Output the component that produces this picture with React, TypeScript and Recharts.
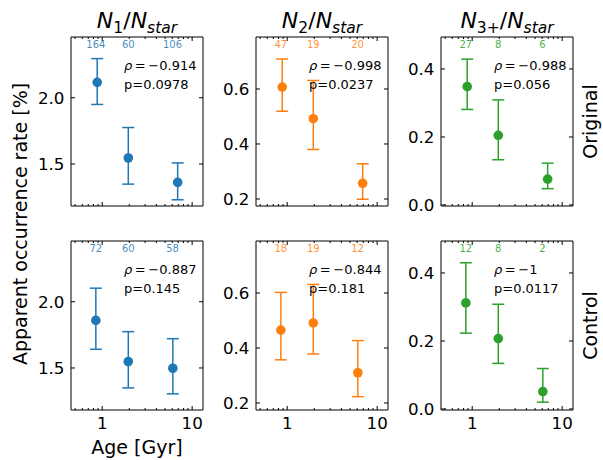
import React from 'react';
import { ScatterChart, Scatter, XAxis, YAxis, ErrorBar } from 'recharts';

// ---------- data ----------
const agesOrig = [0.88, 1.95, 6.9];
const agesCtrl = [0.85, 1.95, 6.1];
const countAges = [0.85, 1.95, 6.05];
const xMajorTicks = [1, 10];
const xMinorTicks = [0.5, 0.6, 0.7, 0.8, 0.9, 2, 3, 4, 5, 6, 7, 8, 9];

const origN1 = [2.116, 1.545, 1.361];
const origN1Lo = [1.949, 1.348, 1.23];
const origN1Hi = [2.295, 1.775, 1.508];
const origN2 = [0.607, 0.492, 0.257];
const origN2Lo = [0.519, 0.38, 0.199];
const origN2Hi = [0.709, 0.631, 0.328];
const origN3 = [0.348, 0.205, 0.076];
const origN3Lo = [0.281, 0.133, 0.048];
const origN3Hi = [0.429, 0.309, 0.123];

const ctrlN1 = [1.859, 1.548, 1.498];
const ctrlN1Lo = [1.641, 1.35, 1.305];
const ctrlN1Hi = [2.102, 1.774, 1.721];
const ctrlN2 = [0.465, 0.491, 0.31];
const ctrlN2Lo = [0.357, 0.378, 0.223];
const ctrlN2Hi = [0.602, 0.631, 0.427];
const ctrlN3 = [0.312, 0.207, 0.051];
const ctrlN3Lo = [0.223, 0.134, 0.02];
const ctrlN3Hi = [0.43, 0.308, 0.119];

const origCounts1 = [164, 60, 106];
const origCounts2 = [47, 19, 20];
const origCounts3 = [27, 8, 6];
const ctrlCounts1 = [72, 60, 58];
const ctrlCounts2 = [18, 19, 12];
const ctrlCounts3 = [12, 8, 2];

const rhoOrig = ['−0.914', '−0.998', '−0.988'];
const pOrig = ['0.0978', '0.0237', '0.056'];
const rhoCtrl = ['−0.887', '−0.844', '−1'];
const pCtrl = ['0.145', '0.181', '0.0117'];

const yTicks1 = [1.5, 2.0];
const yTicks2 = [0.2, 0.4, 0.6];
const yTicks3 = [0.0, 0.2, 0.4];
const yDomain1: [number, number] = [1.183, 2.458];
const yDomain2: [number, number] = [0.1745, 0.789];
const yDomain3: [number, number] = [-0.003, 0.494];
const xDomain: [number, number] = [0.45, 13.2];

const colors = ['#1f77b4', '#ff7f0e', '#2ca02c'];
const rowLabels = ['Original', 'Control'];

// ---------- layout ----------
const FONT = 'DejaVu Sans, Verdana, sans-serif';
const colLeft = [71, 256, 441];
const rowTop = [37, 241];
const PW = 132;
const PH = 169;
const PL = 50; // space left of plot inside chart
const PT = 5; // space above plot inside chart
const BH = 30; // bottom axis height
const TM = 6;

const mk = (ages: number[], v: number[], lo: number[], hi: number[]) =>
  ages.map((a, i) => ({ x: a, y: v[i], err: [v[i] - lo[i], hi[i] - v[i]] }));
const mkCounts = (n: number[], yTop: number) =>
  countAges.map((a, i) => ({ x: a, y: yTop, n: n[i] }));

const allTicks = [...xMinorTicks, ...xMajorTicks].sort((a, b) => a - b);
const isMajor = (v: number) => xMajorTicks.includes(v);

type PanelProps = {
  data: any[];
  counts: any[];
  color: string;
  yDomain: [number, number];
  yTicks: number[];
  showXLabels: boolean;
  left: number;
  top: number;
};

function Panel({ data, counts, color, yDomain, yTicks, showXLabels, left, top }: PanelProps) {
  const W = PL + PW + 5;
  const H = PT + PH + BH;
  const axisLine = { stroke: '#000', strokeWidth: 1 };

  const leftTick = (p: any) => {
    const ax = p.x + TM;
    return (
      <g>
        <line x1={ax} x2={ax + 4} y1={p.y} y2={p.y} stroke="#000" strokeWidth={1} />
        <text x={ax - 6.5} y={p.y} dy="0.36em" textAnchor="end" fontSize={16.7} fontFamily={FONT} fill="#000">
          {Number(p.payload.value).toFixed(1)}
        </text>
      </g>
    );
  };
  const rightTick = (p: any) => {
    const ax = p.x - TM;
    return <line x1={ax} x2={ax - 4} y1={p.y} y2={p.y} stroke="#000" strokeWidth={1} />;
  };
  const bottomTick = (p: any) => {
    const ay = p.y - TM;
    const major = isMajor(p.payload.value);
    return (
      <g>
        <line x1={p.x} x2={p.x} y1={ay} y2={ay - (major ? 4 : 2)} stroke="#000" strokeWidth={1} />
        {showXLabels && major ? (
          <text x={p.x} y={ay + 18.5} textAnchor="middle" fontSize={16.7} fontFamily={FONT} fill="#000">
            {p.payload.value}
          </text>
        ) : null}
      </g>
    );
  };
  const topTick = (p: any) => {
    const ay = p.y + TM;
    const major = isMajor(p.payload.value);
    return <line x1={p.x} x2={p.x} y1={ay} y2={ay + (major ? 4 : 2)} stroke="#000" strokeWidth={1} />;
  };

  const dot = (p: any) => <circle cx={p.cx} cy={p.cy} r={4.8} fill={color} />;
  const countShape = (p: any) => (
    <text x={p.cx} y={PT + 11} textAnchor="middle" fontSize={10} fontFamily={FONT} fill={color} fillOpacity={0.85}>
      {p.payload.n}
    </text>
  );

  return (
    <div style={{ position: 'absolute', left: left - PL, top: top - PT }}>
      <ScatterChart width={W} height={H} margin={{ top: PT - 1, right: 4, bottom: 0, left: 0 }}>
        <XAxis
          xAxisId="b"
          dataKey="x"
          type="number"
          scale="log"
          domain={xDomain}
          allowDataOverflow
          ticks={allTicks}
          interval={0}
          tick={bottomTick}
          tickLine={false}
          tickSize={0}
          tickMargin={TM}
          axisLine={axisLine}
          height={BH}
          orientation="bottom"
        />
        <XAxis
          xAxisId="t"
          dataKey="x"
          type="number"
          scale="log"
          domain={xDomain}
          allowDataOverflow
          ticks={allTicks}
          interval={0}
          tick={topTick}
          tickLine={false}
          tickSize={0}
          tickMargin={TM}
          axisLine={axisLine}
          height={1}
          orientation="top"
        />
        <YAxis
          yAxisId="l"
          dataKey="y"
          type="number"
          domain={yDomain}
          allowDataOverflow
          ticks={yTicks}
          interval={0}
          tick={leftTick}
          tickLine={false}
          tickSize={0}
          tickMargin={TM}
          axisLine={axisLine}
          width={PL}
          orientation="left"
        />
        <YAxis
          yAxisId="r"
          dataKey="y"
          type="number"
          domain={yDomain}
          allowDataOverflow
          ticks={yTicks}
          interval={0}
          tick={rightTick}
          tickLine={false}
          tickSize={0}
          tickMargin={TM}
          axisLine={axisLine}
          width={1}
          orientation="right"
        />
        <Scatter xAxisId="b" yAxisId="l" data={data} shape={dot} isAnimationActive={false}>
          <ErrorBar dataKey="err" direction="y" width={6} stroke={color} strokeWidth={1.5} isAnimationActive={false} />
        </Scatter>
        <Scatter xAxisId="b" yAxisId="l" data={counts} shape={countShape} isAnimationActive={false} />
      </ScatterChart>
    </div>
  );
}

const origData = [
  mk(agesOrig, origN1, origN1Lo, origN1Hi),
  mk(agesOrig, origN2, origN2Lo, origN2Hi),
  mk(agesOrig, origN3, origN3Lo, origN3Hi),
];
const ctrlData = [
  mk(agesCtrl, ctrlN1, ctrlN1Lo, ctrlN1Hi),
  mk(agesCtrl, ctrlN2, ctrlN2Lo, ctrlN2Hi),
  mk(agesCtrl, ctrlN3, ctrlN3Lo, ctrlN3Hi),
];
const domains = [yDomain1, yDomain2, yDomain3];
const tickSets = [yTicks1, yTicks2, yTicks3];
const origCounts = [origCounts1, origCounts2, origCounts3];
const ctrlCounts = [ctrlCounts1, ctrlCounts2, ctrlCounts3];

function Title({ cx, sub }: { cx: number; sub: string }) {
  return (
    <text x={cx} y={28} textAnchor="middle" fontSize={22} fontFamily={FONT} fill="#000">
      <tspan fontStyle="italic">N</tspan>
      <tspan fontSize={15.5} dy={4.5}>{sub}</tspan>
      <tspan dy={-4.5}>/</tspan>
      <tspan fontStyle="italic">N</tspan>
      <tspan fontSize={15.5} dy={4.5} fontStyle="italic">star</tspan>
    </text>
  );
}

export default function App() {
  const subs = ['1', '2', '3+'];
  return (
    <div style={{ position: 'absolute', left: 0, top: 0, width: 603, height: 460, background: '#fff', overflow: 'hidden' }}>
      {[0, 1].map((r) =>
        [0, 1, 2].map((c) => (
          <Panel
            key={`${r}-${c}`}
            data={r === 0 ? origData[c] : ctrlData[c]}
            counts={mkCounts(r === 0 ? origCounts[c] : ctrlCounts[c], domains[c][1])}
            color={colors[c]}
            yDomain={domains[c]}
            yTicks={tickSets[c]}
            showXLabels={r === 1}
            left={colLeft[c]}
            top={rowTop[r]}
          />
        ))
      )}
      <svg width={603} height={460} style={{ position: 'absolute', left: 0, top: 0, pointerEvents: 'none' }}>
        {subs.map((s, c) => (
          <Title key={s} cx={colLeft[c] + PW / 2} sub={s} />
        ))}
        {[0, 1].map((r) =>
          [0, 1, 2].map((c) => (
            <g key={`a${r}${c}`} fontFamily={FONT} fontSize={13} fill="#000">
              <text x={colLeft[c] + 53} y={rowTop[r] + 32.5}>
                <tspan fontStyle="italic">ρ</tspan>
                {'\u2009=\u2009' + (r === 0 ? rhoOrig[c] : rhoCtrl[c])}
              </text>
              <text x={colLeft[c] + 53} y={rowTop[r] + 51.5}>
                {'p=' + (r === 0 ? pOrig[c] : pCtrl[c])}
              </text>
            </g>
          ))
        )}
        <text
          transform={`translate(27, 224) rotate(-90)`}
          textAnchor="middle"
          fontSize={19}
          fontFamily={FONT}
          fill="#000"
        >
          Apparent occurrence rate [%]
        </text>
        <text x={colLeft[0] + PW / 2} y={453.5} textAnchor="middle" fontSize={19} fontFamily={FONT} fill="#000">
          Age [Gyr]
        </text>
        {rowLabels.map((t, r) => (
          <text
            key={t}
            transform={`translate(597, ${rowTop[r] + PH / 2}) rotate(-90)`}
            textAnchor="middle"
            fontSize={19}
            fontFamily={FONT}
            fill="#000"
          >
            {t}
          </text>
        ))}
      </svg>
    </div>
  );
}
